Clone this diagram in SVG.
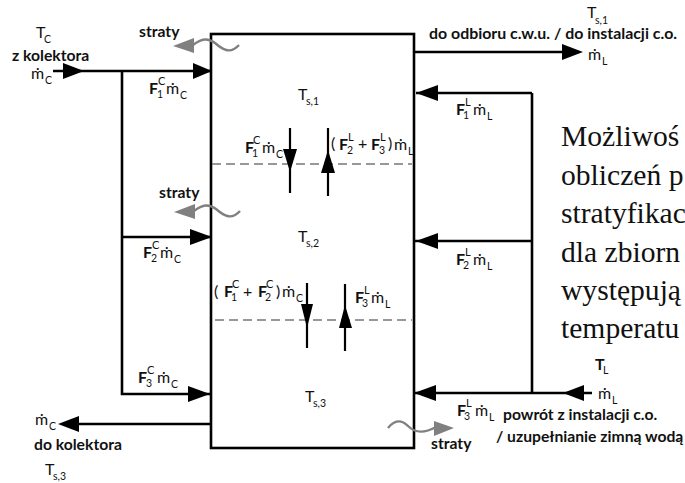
<svg xmlns="http://www.w3.org/2000/svg" width="685" height="483" viewBox="0 0 685 483">
<style>
text{font-family:Lato,"Open Sans",sans-serif;fill:#111}
.l{font-size:15.7px;font-weight:700}
.t{font-size:16px}
.f{font-size:16px;font-weight:700}
.s{font-size:10.5px}
.sb{font-size:11px}
.m{font-size:16px}
.p{font-family:"Liberation Serif",serif;font-size:29.6px}
.c{fill:none;stroke:#000;stroke-width:2.6}
.i{fill:none;stroke:#000;stroke-width:2.2}
.d{fill:none;stroke:#777;stroke-width:1.6;stroke-dasharray:9 5}
.w{fill:none;stroke:#808080;stroke-width:2.4}
.h{fill:#000}
.g{fill:#808080}
</style>
<defs>
<g id="mc"><text class="m" x="0" y="0">ṁ</text><text class="s" x="14" y="5">C</text></g>
<g id="ml"><text class="m" x="0" y="0">ṁ</text><text class="s" x="14" y="5">L</text></g>
</defs>
<g id="tank"><rect class="c" x="211" y="34" width="203" height="414"/></g>
<g id="connectors">
<path class="c" d="M53 71H211M122 71V394H211M122 237H211M211 424H70M414 52H570M532 93H416M532 93V393M414 241H532M414 393H592"/>
<path class="i" d="M290 128V193M328 128V196M307 283V348M345 284V351"/>
<path class="d" d="M212 164H412M215 320H412"/>
<path class="h" d="M84 71L63 63V79ZM212 71L193 63V79ZM212 237L190 229V245ZM210 394L188 386V402ZM58 424L79 416V432ZM583 52L562 44V60ZM416 93L438 85V101ZM416 241L438 233V249ZM414 393L436 385V401ZM563 393L584 385V401ZM290 172L283 149H297ZM328 150L321 173H335ZM307 328L301 304H313ZM345 305L339 328H352Z"/>
<path class="w" d="M193 45C202 38 208 38 215 43C222 49 230 55 239 45"/>
<path class="g" d="M173 46L194 38V53Z"/>
<path class="w" d="M194 211C203 204 209 204 216 209C223 215 231 221 240 211"/>
<path class="g" d="M174 212L195 204V219Z"/>
<path class="w" d="M388 428C395 419 402 420 408 426C416 434 425 433 436 427"/>
<path class="g" d="M454 428L434 421V436Z"/>
</g>
<g id="label-inlet">
<text class="t" x="36" y="38">T</text><text class="s" x="44" y="43">C</text>
<text class="l" x="12" y="61">z kolektora</text>
<use href="#mc" x="31" y="79"/>
</g>
<g id="label-straty"><text class="l" x="139" y="37">straty</text><text class="l" x="159" y="198">straty</text><text class="l" x="431" y="449">straty</text></g>
<g id="label-f1c"><text class="f" x="149" y="94">F</text><text class="sb" x="158" y="85">C</text><text class="s" x="157" y="98">1</text><use href="#mc" x="166" y="94"/></g>
<g id="label-f2c"><text class="f" x="143" y="258">F</text><text class="sb" x="152" y="249">C</text><text class="s" x="151" y="262">2</text><use href="#mc" x="160" y="258"/></g>
<g id="label-f3c"><text class="f" x="138" y="383">F</text><text class="sb" x="147" y="374">C</text><text class="s" x="146" y="387">3</text><use href="#mc" x="157" y="383"/></g>
<g id="label-f1c-inner"><text class="f" x="245" y="153">F</text><text class="sb" x="253" y="144">C</text><text class="s" x="252" y="157">1</text><use href="#mc" x="262" y="153"/></g>
<g id="label-fl23"><text class="t" x="331" y="149">(</text><text class="f" x="339" y="150">F</text><text class="sb" x="348" y="141">L</text><text class="s" x="347" y="154">2</text><text class="t" x="358" y="149">+</text><text class="f" x="371" y="150">F</text><text class="sb" x="380" y="141">L</text><text class="s" x="379" y="154">3</text><text class="t" x="388" y="149">)</text><use href="#ml" x="394" y="150"/></g>
<g id="label-fc12"><text class="t" x="214" y="297">(</text><text class="f" x="224" y="297">F</text><text class="sb" x="232" y="288">C</text><text class="s" x="231" y="301">1</text><text class="t" x="243" y="297">+</text><text class="f" x="258" y="297">F</text><text class="sb" x="266" y="288">C</text><text class="s" x="265" y="301">2</text><text class="t" x="276" y="297">)</text><use href="#mc" x="282" y="297"/></g>
<g id="label-f3l-inner"><text class="f" x="355" y="303">F</text><text class="sb" x="364" y="294">L</text><text class="s" x="362" y="307">3</text><use href="#ml" x="371" y="303"/></g>
<g id="label-fl"><text class="f" x="456" y="115">F</text><text class="sb" x="465" y="106">L</text><text class="s" x="463" y="119">1</text><use href="#ml" x="473" y="115"/>
<text class="f" x="456" y="265">F</text><text class="sb" x="465" y="256">L</text><text class="s" x="463" y="269">2</text><use href="#ml" x="473" y="265"/>
<text class="f" x="457" y="416">F</text><text class="sb" x="466" y="407">L</text><text class="s" x="464" y="420">3</text><use href="#ml" x="475" y="416"/></g>
<g id="label-ts"><text class="t" x="298" y="100">T</text><text class="s" x="306" y="105">s,1</text>
<text class="t" x="298" y="242">T</text><text class="s" x="306" y="247">s,2</text>
<text class="t" x="305" y="402">T</text><text class="s" x="313" y="407">s,3</text></g>
<g id="label-outlet"><text class="t" x="587" y="18">T</text><text class="s" x="595" y="24">s,1</text>
<text class="l" x="429" y="39" style="font-size:15.9px">do odbioru c.w.u. / do instalacji c.o.</text>
<use href="#ml" x="588" y="60"/></g>
<g id="label-return"><text class="f" x="595" y="370">T</text><text class="s" x="603" y="374">L</text>
<use href="#ml" x="598" y="399"/>
<text class="l" x="503" y="420">powrót z instalacji c.o.</text>
<text class="l" x="496" y="442">/ uzupełnianie zimną wodą</text></g>
<g id="label-bottom"><use href="#mc" x="35" y="425"/><text class="l" x="34" y="450">do kolektora</text>
<text class="t" x="45" y="475">T</text><text class="s" x="53" y="480">s,3</text></g>
<g id="paragraph">
<text class="p" x="561" y="146">Możliwoś</text>
<text class="p" x="561" y="185">obliczeń p</text>
<text class="p" x="561" y="223">stratyfikac</text>
<text class="p" x="561" y="262">dla zbiorn</text>
<text class="p" x="561" y="300">występują</text>
<text class="p" x="561" y="338">temperatu</text>
</g>
</svg>
